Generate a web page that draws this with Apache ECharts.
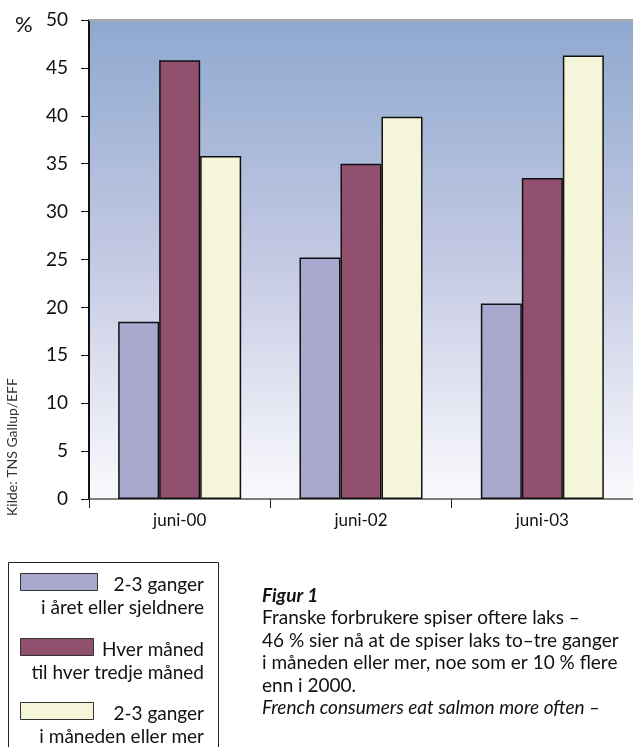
<!DOCTYPE html>
<html>
<head>
<meta charset="utf-8">
<script src="https://cdn.jsdelivr.net/npm/echarts@6/dist/echarts.min.js"></script>
<style>
  html, body { margin: 0; padding: 0; background: #fff; }
  #chart { width: 633px; height: 747px; }
</style>
</head>
<body>
<div id="chart"></div>
<script>
// data
var categories = ['juni-00', 'juni-02', 'juni-03'];
var seriesNames = [
  '2-3 ganger i året eller sjeldnere',
  'Hver måned til hver tredje måned',
  '2-3 ganger i måneden eller mer'
];
var legendLines = [
  ['2-3 ganger', 'i året eller sjeldnere'],
  ['Hver måned', 'til hver tredje måned'],
  ['2-3 ganger', 'i måneden eller mer']
];
var rarely = [18.5, 25.2, 20.4];
var monthly = [45.8, 35.0, 33.5];
var often = [35.8, 39.9, 46.3];
var yTicks = { min: 0, max: 50, interval: 5 };
var captionLines = [
  'Franske forbrukere spiser oftere laks –',
  '46 % sier nå at de spiser laks to–tre ganger',
  'i måneden eller mer, noe som er 10 % flere',
  'enn i 2000.'
];
var captionEn = 'French consumers eat salmon more often –';

var colors = ['#A9A9CF', '#92506F', '#F5F5DA'];
var font = 'Lato, "Open Sans", sans-serif';

var chart = echarts.init(document.getElementById('chart'));

var graphics = [];
// percent sign
graphics.push({ type: 'text', x: 15, y: 25,
  style: { text: '%', font: '22px ' + font, fill: '#111', textVerticalAlign: 'middle' } });
// source text
graphics.push({ type: 'text', x: 12, y: 447, rotation: Math.PI / 2,
  style: { text: 'Kilde: TNS Gallup/EFF', font: '14px ' + font, fill: '#333',
    textAlign: 'center', textVerticalAlign: 'middle' } });
// legend box
graphics.push({ type: 'rect', shape: { x: 8.5, y: 562.5, width: 210, height: 200 },
  style: { fill: 'none', stroke: '#222', lineWidth: 1 } });
var legY = [573, 638, 702];
var swatchW = [77, 73, 73];
for (var i = 0; i < 3; i++) {
  graphics.push({ type: 'rect', shape: { x: 20.5, y: legY[i] + 0.5, width: swatchW[i], height: 17 },
    style: { fill: colors[i], stroke: '#333', lineWidth: 1 } });
  graphics.push({ type: 'text', x: 204, y: legY[i] + 12,
    style: { text: legendLines[i][0], font: '19px ' + font, fill: '#111',
      textAlign: 'right', textVerticalAlign: 'middle' } });
  graphics.push({ type: 'text', x: 204, y: legY[i] + 35,
    style: { text: legendLines[i][1], font: '19px ' + font, fill: '#111',
      textAlign: 'right', textVerticalAlign: 'middle' } });
}
// caption
graphics.push({ type: 'text', x: 262, y: 596,
  style: { text: 'Figur 1', font: 'italic bold 19px ' + font, fill: '#111',
    textVerticalAlign: 'middle' } });
for (var j = 0; j < captionLines.length; j++) {
  graphics.push({ type: 'text', x: 262, y: 618 + j * 22.5,
    style: { text: captionLines[j], font: '19px ' + font, fill: '#111',
      textVerticalAlign: 'middle' } });
}
graphics.push({ type: 'text', x: 262, y: 618 + captionLines.length * 22.5,
  style: { text: captionEn, font: 'italic 19px ' + font, fill: '#111',
    textVerticalAlign: 'middle' } });

function barSeries(name, data, color) {
  return {
    name: name,
    type: 'bar',
    data: data,
    barWidth: 41,
    barGap: '0%',
    itemStyle: { color: color, borderColor: '#111', borderWidth: 1.5 }
  };
}

chart.setOption({
  animation: false,
  grid: {
    left: 89, top: 20, right: -8, bottom: 248,
    show: true,
    borderWidth: 0,
    backgroundColor: new echarts.graphic.LinearGradient(0, 0, 0, 1, [
      { offset: 0, color: '#8EA9CF' },
      { offset: 0.5, color: '#C4C9E3' },
      { offset: 1, color: '#FAFAFD' }
    ])
  },
  xAxis: [{
    type: 'category',
    data: categories,
    axisLine: { lineStyle: { color: '#555', width: 1.5 } },
    axisTick: { show: true, length: 9, lineStyle: { color: '#222' } },
    axisLabel: { fontSize: 17, color: '#111', margin: 13, fontFamily: font }
  }, {
    type: 'category',
    data: categories,
    position: 'top',
    axisLine: { lineStyle: { color: '#A8A8A8', width: 2 } },
    axisTick: { show: false },
    axisLabel: { show: false }
  }],
  yAxis: {
    type: 'value',
    min: yTicks.min,
    max: yTicks.max,
    interval: yTicks.interval,
    axisLine: { show: true, lineStyle: { color: '#111', width: 2 } },
    axisTick: { show: true, length: 8, lineStyle: { color: '#111' } },
    axisLabel: { fontSize: 19, color: '#111', margin: 21, fontFamily: font },
    splitLine: { show: false }
  },
  series: [
    barSeries(seriesNames[0], rarely, colors[0]),
    barSeries(seriesNames[1], monthly, colors[1]),
    barSeries(seriesNames[2], often, colors[2])
  ],
  graphic: graphics
});
</script>
</body>
</html>
